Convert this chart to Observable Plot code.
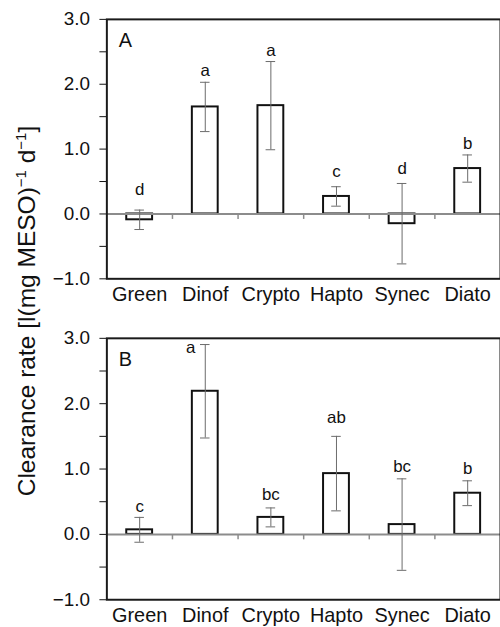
<!DOCTYPE html>
<html><head><meta charset="utf-8">
<script src="https://cdn.jsdelivr.net/npm/d3@7"></script>
<script src="https://cdn.jsdelivr.net/npm/@observablehq/plot@0.6"></script>
<style>
html,body{margin:0;padding:0;background:#fff;overflow:hidden}
#chart{position:relative;width:500px;height:627px;overflow:hidden;background:#fff}
#chart > svg{position:absolute;left:0}
</style></head><body><div id="chart"></div>
<script>
const groups = ["Green", "Dinof", "Crypto", "Hapto", "Synec", "Diato"];
const meanA = [-0.09, 1.65, 1.67, 0.27, -0.15, 0.70];
const seA = [0.15, 0.38, 0.68, 0.15, 0.62, 0.21];
const letterA = ["d", "a", "a", "c", "d", "b"];
const letterYA = [0.30, 2.13, 2.44, 0.57, 0.61, 1.00];
const meanB = [0.07, 2.19, 0.26, 0.93, 0.15, 0.63];
const seB = [0.19, 0.715, 0.145, 0.57, 0.70, 0.19];
const letterB = ["c", "a", "bc", "ab", "bc", "b"];
const letterYB = [0.34, 2.78, 0.53, 1.70, 0.95, 0.92];
const yTicks = [-1, -0.5, 0, 0.5, 1, 1.5, 2, 2.5, 3];
const panelLabels = ["A", "B"];
const yTitleMain = "Clearance rate [l(mg MESO)";
const yTitleSup = "\u22121";

const FONT = "'Liberation Sans', Arial, Helvetica, sans-serif";
const fmt = d3.format(".1f");

// short downward tick used to mark band boundaries on the zero line
const downTick = {draw(ctx) { ctx.moveTo(0, 0); ctx.lineTo(0, 5); }};

function panel(mean, se, letters, letterY, label, height, mt, mb) {
  const data = groups.map((g, i) => ({group: g, mean: mean[i], se: se[i], letter: letters[i], ly: letterY[i]}));
  const width = 503, ml = 107, mr = 0;
  const step = (width - ml - mr) / groups.length;
  const pInner = 0.6;
  const bw = step * (1 - pInner);
  const capW = 10;
  const capInset = (bw - capW) / 2;
  const above = data.filter(d => d.ly >= d.mean + d.se);
  const beside = data.filter(d => d.ly < d.mean + d.se);
  const svg = Plot.plot({
    width, height,
    marginLeft: ml, marginRight: mr, marginTop: mt, marginBottom: mb,
    style: {fontFamily: FONT, fontSize: "19px", background: "white", color: "#111", overflow: "visible"},
    x: {type: "band", domain: groups, paddingInner: pInner, paddingOuter: pInner / 2,
        tickSize: 0, tickPadding: 8, label: null},
    y: {domain: [-1, 3], ticks: yTicks, tickSize: 7, tickPadding: 10, label: null,
        tickFormat: d => Number.isInteger(d) ? fmt(d) : ""},
    marks: [
      Plot.barY(data, {x: "group", y: "mean", fill: "white", stroke: "#111", strokeWidth: 2}),
      Plot.ruleY([0], {stroke: "#8c8c8c", strokeWidth: 2}),
      Plot.dot(groups.slice(0, -1), {x: d => d, y: () => 0, dx: step / 2, symbol: downTick,
        fill: "none", stroke: "#8c8c8c", strokeWidth: 1.5}),
      Plot.ruleX(data, {x: "group", y1: d => d.mean - d.se, y2: d => d.mean + d.se,
        stroke: "#6b6b6b", strokeWidth: 1}),
      Plot.tickY(data, {x: "group", y: d => d.mean + d.se, insetLeft: capInset, insetRight: capInset,
        stroke: "#6b6b6b", strokeWidth: 1}),
      Plot.tickY(data, {x: "group", y: d => d.mean - d.se, insetLeft: capInset, insetRight: capInset,
        stroke: "#6b6b6b", strokeWidth: 1}),
      Plot.text(above, {x: "group", y: "ly", text: "letter", lineAnchor: "bottom",
        fontSize: 17, fill: "#111"}),
      Plot.text(beside, {x: "group", y: "ly", text: "letter", lineAnchor: "bottom",
        textAnchor: "end", dx: -10, fontSize: 17, fill: "#111"}),
      Plot.text([label], {text: d => d, frameAnchor: "top-left", textAnchor: "start",
        lineAnchor: "top", dx: 12, dy: 14, fontSize: 20, fill: "#111"}),
      Plot.frame({stroke: "#1a1a1a", strokeWidth: 2})
    ]
  });
  svg.querySelectorAll('g[aria-label^="x-axis"] text').forEach(t => t.style.fontSize = "20px");
  return svg;
}

const chart = document.getElementById("chart");
const svgA = panel(meanA, seA, letterA, letterYA, panelLabels[0], 310, 19, 30);
svgA.style.top = "0px";
chart.appendChild(svgA);
const svgB = panel(meanB, seB, letterB, letterYB, panelLabels[1], 317, 28, 26);
svgB.style.top = "310px";
chart.appendChild(svgB);

const ts = d3.select(chart).append("svg")
  .attr("width", 500).attr("height", 627)
  .style("top", "0px").style("pointer-events", "none");
const t = ts.append("text")
  .attr("transform", "translate(35,311) rotate(-90)")
  .attr("text-anchor", "middle")
  .style("font-family", FONT).style("font-size", "24.5px").style("fill", "#111");
t.append("tspan").text(yTitleMain);
t.append("tspan").attr("dy", -9).style("font-size", "15px").text(yTitleSup);
t.append("tspan").attr("dy", 9).text(" d");
t.append("tspan").attr("dy", -9).style("font-size", "15px").text(yTitleSup);
t.append("tspan").attr("dy", 9).text("]");
</script></body></html>
